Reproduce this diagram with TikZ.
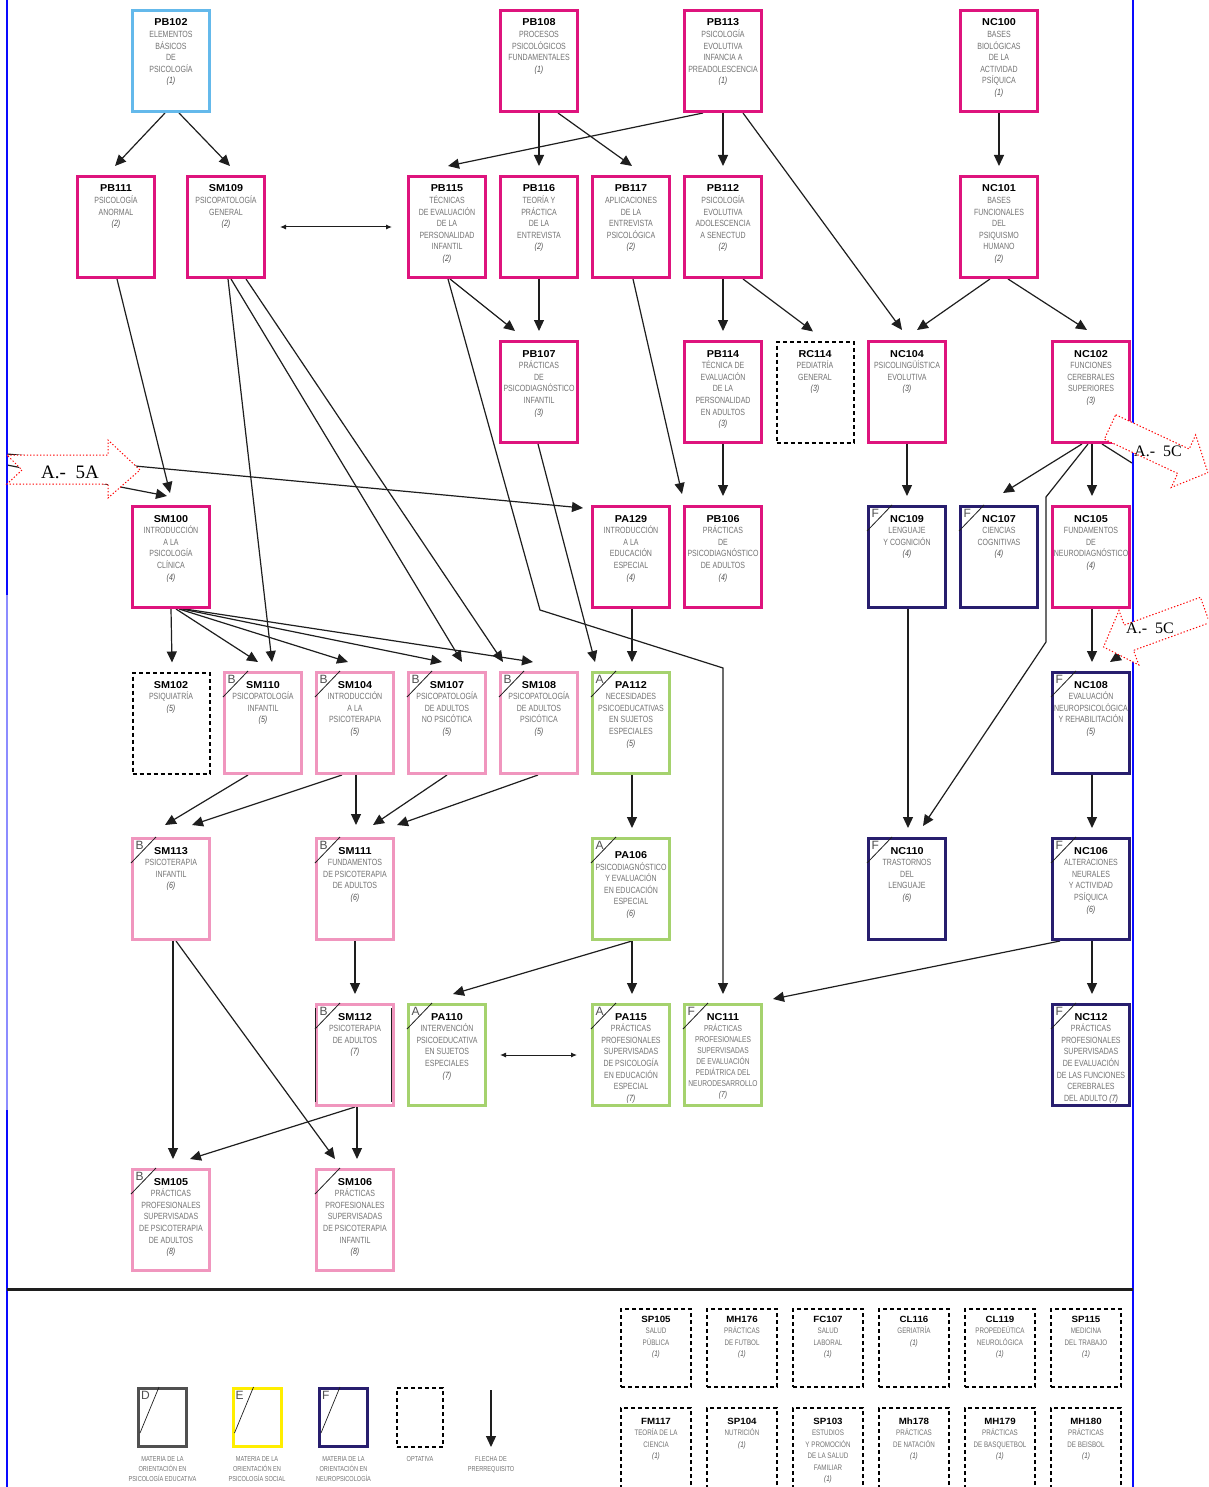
\documentclass[tikz,border=0pt]{standalone}
\usepackage{fontspec}
\setmainfont{Liberation Sans}
\newfontfamily\descfamily[FakeStretch=0.78]{Liberation Sans}
\newfontfamily\codfamily[FakeStretch=1.08]{Liberation Sans}
\newfontfamily\seriffamily{Liberation Serif}
\usetikzlibrary{arrows.meta, backgrounds}

\definecolor{fucsia}{RGB}{222,20,125}
\definecolor{rosa}{RGB}{240,150,190}
\definecolor{verde}{RGB}{165,210,110}
\definecolor{marino}{RGB}{40,30,110}
\definecolor{celeste}{RGB}{100,185,235}
\definecolor{gristxt}{RGB}{115,115,115}
\definecolor{grisleg}{RGB}{80,80,80}
\definecolor{amarillo}{RGB}{255,238,0}
\definecolor{azulmarco}{RGB}{10,10,255}
\definecolor{lavanda}{RGB}{140,140,255}
\definecolor{tinta}{RGB}{30,30,30}

% Textos de las cajas
\newcommand{\desc}{\descfamily\fontsize{9}{11.6}\selectfont}
\newcommand{\cod}[1]{{\color{black}\codfamily\bfseries\fontsize{10}{11}\selectfont #1}}
\newcommand{\sem}[1]{{\itshape\color{gristxt!70!black}(#1)}}
\newcommand{\materia}[2]{\begin{minipage}[c][95pt][t]{77pt}\centering\desc\color{gristxt}\rule{0pt}{12.5pt}\cod{#1}\\ #2\end{minipage}}
\newcommand{\optativa}[2]{\begin{minipage}[c][72pt][t]{68pt}\centering\descfamily\fontsize{8}{11.5}\selectfont\color{gristxt}\rule{0pt}{10pt}{\color{black}\codfamily\bfseries\fontsize{9}{10}\selectfont #1}\\ #2\end{minipage}}
% esquina con letra y diagonal
\newcommand{\marca}[2]{%
  \draw[line width=0.8pt, tinta] ([yshift=-26pt]#1.north west) -- ([xshift=25pt]#1.north west);
  \node[letra] (#1-l) at ([xshift=4.5pt,yshift=-4pt]#1.north west) {#2};}

\begin{document}
\begin{tikzpicture}[x=1pt, y=-1pt,
    >={Triangle[length=11pt,width=10pt]},
    caja/.style={draw=#1, line width=3pt, fill=white, minimum width=77pt, minimum height=101pt, inner sep=0pt},
    opt/.style={draw=black, line width=2pt, dash pattern=on 4pt off 3pt, fill=white, minimum width=77pt, minimum height=101pt, inner sep=0pt},
    optchica/.style={draw=black, line width=2pt, dash pattern=on 4pt off 3pt, minimum width=70pt, minimum height=#1, inner sep=0pt},
    flecha/.style={->, line width=1.2pt, tinta},
    linea/.style={line width=1.2pt, tinta},
    doble/.style={{Latex[length=6pt,width=5pt]}-{Latex[length=6pt,width=5pt]}, line width=1pt, tinta},
    letra/.style={anchor=north west, inner sep=0pt, font=\fontsize{12}{12}\selectfont, text=grisleg},
    bloque/.style={draw=red, fill=white, line width=1pt, dash pattern=on 1.3pt off 2pt},
    leyenda/.style={anchor=north, align=center, inner sep=0pt, text=gristxt, font=\descfamily\fontsize{7.2}{10}\selectfont}]
\clip (0,0) rectangle (1208,1487);

% ---------- semestre 1 ----------
\node[caja=celeste] (PB102) at (171,61) {\materia{PB102}{ELEMENTOS\\BÁSICOS\\DE\\PSICOLOGÍA\\\sem{1}}};
\node[caja=fucsia] (PB108) at (539,61) {\materia{PB108}{PROCESOS\\PSICOLÓGICOS\\FUNDAMENTALES\\\sem{1}}};
\node[caja=fucsia] (PB113) at (723,61) {\materia{PB113}{PSICOLOGÍA\\EVOLUTIVA\\INFANCIA A\\PREADOLESCENCIA\\\sem{1}}};
\node[caja=fucsia] (NC100) at (999,61) {\materia{NC100}{BASES\\BIOLÓGICAS\\DE LA\\ACTIVIDAD\\PSÍQUICA\\\sem{1}}};
% ---------- semestre 2 ----------
\node[caja=fucsia] (PB111) at (116,227) {\materia{PB111}{PSICOLOGÍA\\ANORMAL\\\sem{2}}};
\node[caja=fucsia] (SM109) at (226,227) {\materia{SM109}{PSICOPATOLOGÍA\\GENERAL\\\sem{2}}};
\node[caja=fucsia] (PB115) at (447,227) {\materia{PB115}{TÉCNICAS\\DE EVALUACIÓN\\DE LA\\PERSONALIDAD\\INFANTIL\\\sem{2}}};
\node[caja=fucsia] (PB116) at (539,227) {\materia{PB116}{TEORÍA Y\\PRÁCTICA\\DE LA\\ENTREVISTA\\\sem{2}}};
\node[caja=fucsia] (PB117) at (631,227) {\materia{PB117}{APLICACIONES\\DE LA\\ENTREVISTA\\PSICOLÓGICA\\\sem{2}}};
\node[caja=fucsia] (PB112) at (723,227) {\materia{PB112}{PSICOLOGÍA\\EVOLUTIVA\\ADOLESCENCIA\\A SENECTUD\\\sem{2}}};
\node[caja=fucsia] (NC101) at (999,227) {\materia{NC101}{BASES\\FUNCIONALES\\DEL\\PSIQUISMO\\HUMANO\\\sem{2}}};
% ---------- semestre 3 ----------
\node[caja=fucsia] (PB107) at (539,392) {\materia{PB107}{PRÁCTICAS\\DE\\PSICODIAGNÓSTICO\\INFANTIL\\\sem{3}}};
\node[caja=fucsia] (PB114) at (723,392) {\materia{PB114}{TÉCNICA DE\\EVALUACIÓN\\DE LA\\PERSONALIDAD\\EN ADULTOS\\\sem{3}}};
\node[opt] (RC114) at (815,392) {\materia{RC114}{PEDIATRÍA\\GENERAL\\\sem{3}}};
\node[caja=fucsia] (NC104) at (907,392) {\materia{NC104}{PSICOLINGÜÍSTICA\\EVOLUTIVA\\\sem{3}}};
\node[caja=fucsia] (NC102) at (1091,392) {\materia{NC102}{FUNCIONES\\CEREBRALES\\SUPERIORES\\\sem{3}}};
% ---------- semestre 4 ----------
\node[caja=fucsia] (SM100) at (171,557) {\materia{SM100}{INTRODUCCIÓN\\A LA\\PSICOLOGÍA\\CLÍNICA\\\sem{4}}};
\node[caja=fucsia] (PA129) at (631,557) {\materia{PA129}{INTRODUCCIÓN\\A LA\\EDUCACIÓN\\ESPECIAL\\\sem{4}}};
\node[caja=fucsia] (PB106) at (723,557) {\materia{PB106}{PRÁCTICAS\\DE\\PSICODIAGNÓSTICO\\DE ADULTOS\\\sem{4}}};
\node[caja=marino] (NC109) at (907,557) {\materia{NC109}{LENGUAJE\\Y COGNICIÓN\\\sem{4}}};
\node[caja=marino] (NC107) at (999,557) {\materia{NC107}{CIENCIAS\\COGNITIVAS\\\sem{4}}};
\node[caja=fucsia] (NC105) at (1091,557) {\materia{NC105}{FUNDAMENTOS\\DE\\NEURODIAGNÓSTICO\\\sem{4}}};
% ---------- semestre 5 ----------
\node[opt] (SM102) at (171,723) {\materia{SM102}{PSIQUIATRÍA\\\sem{5}}};
\node[caja=rosa] (SM110) at (263,723) {\materia{SM110}{PSICOPATOLOGÍA\\INFANTIL\\\sem{5}}};
\node[caja=rosa] (SM104) at (355,723) {\materia{SM104}{INTRODUCCIÓN\\A LA\\PSICOTERAPIA\\\sem{5}}};
\node[caja=rosa] (SM107) at (447,723) {\materia{SM107}{PSICOPATOLOGÍA\\DE ADULTOS\\NO PSICÓTICA\\\sem{5}}};
\node[caja=rosa] (SM108) at (539,723) {\materia{SM108}{PSICOPATOLOGÍA\\DE ADULTOS\\PSICÓTICA\\\sem{5}}};
\node[caja=verde] (PA112) at (631,723) {\materia{PA112}{NECESIDADES\\PSICOEDUCATIVAS\\EN SUJETOS\\ESPECIALES\\\sem{5}}};
\node[caja=marino] (NC108) at (1091,723) {\materia{NC108}{EVALUACIÓN\\NEUROPSICOLÓGICA\\Y REHABILITACIÓN\\\sem{5}}};
% ---------- semestre 6 ----------
\node[caja=rosa] (SM113) at (171,889) {\materia{SM113}{PSICOTERAPIA\\INFANTIL\\\sem{6}}};
\node[caja=rosa] (SM111) at (355,889) {\materia{SM111}{FUNDAMENTOS\\DE PSICOTERAPIA\\DE ADULTOS\\\sem{6}}};
\node[caja=verde] (PA106) at (631,889) {\materia{\rule{0pt}{17pt}PA106}{PSICODIAGNÓSTICO\\Y EVALUACIÓN\\EN EDUCACIÓN\\ESPECIAL\\\sem{6}}};
\node[caja=marino] (NC110) at (907,889) {\materia{NC110}{TRASTORNOS\\DEL\\LENGUAJE\\\sem{6}}};
\node[caja=marino] (NC106) at (1091,889) {\materia{NC106}{ALTERACIONES\\NEURALES\\Y ACTIVIDAD\\PSÍQUICA\\\sem{6}}};
% ---------- semestre 7 ----------
\node[caja=rosa] (SM112) at (355,1055) {\materia{SM112}{PSICOTERAPIA\\DE ADULTOS\\\sem{7}}};
\node[caja=verde] (PA110) at (447,1055) {\materia{PA110}{INTERVENCIÓN\\PSICOEDUCATIVA\\EN SUJETOS\\ESPECIALES\\\sem{7}}};
\node[caja=verde] (PA115) at (631,1055) {\materia{PA115}{PRÁCTICAS\\PROFESIONALES\\SUPERVISADAS\\DE PSICOLOGÍA\\EN EDUCACIÓN\\ESPECIAL\\\sem{7}}};
\node[caja=verde] (NC111) at (723,1055) {\materia{NC111}{\fontsize{8.5}{11}\selectfont PRÁCTICAS\\PROFESIONALES\\SUPERVISADAS\\DE EVALUACIÓN\\PEDIÁTRICA DEL\\NEURODESARROLLO\\\sem{7}}};
\node[caja=marino] (NC112) at (1091,1055) {\materia{NC112}{PRÁCTICAS\\PROFESIONALES\\SUPERVISADAS\\DE EVALUACIÓN\\DE LAS FUNCIONES\\CEREBRALES\\DEL ADULTO \sem{7}}};
% ---------- semestre 8 ----------
\node[caja=rosa] (SM105) at (171,1220) {\materia{SM105}{PRÁCTICAS\\PROFESIONALES\\SUPERVISADAS\\DE PSICOTERAPIA\\DE ADULTOS\\\sem{8}}};
\node[caja=rosa] (SM106) at (355,1220) {\materia{SM106}{PRÁCTICAS\\PROFESIONALES\\SUPERVISADAS\\DE PSICOTERAPIA\\INFANTIL\\\sem{8}}};

% lineas negras interiores de SM112
\draw[line width=1pt, tinta] ([xshift=0.5pt,yshift=-5pt]SM112.north west) -- ([xshift=0.5pt,yshift=5pt]SM112.south west);
\draw[line width=1pt, tinta] ([xshift=-3.5pt,yshift=-5pt]SM112.north east) -- ([xshift=-3.5pt,yshift=5pt]SM112.south east);

% esquinas de orientacion
\foreach \m/\l in {SM110/B, SM104/B, SM107/B, SM108/B, SM113/B, SM111/B, SM112/B, SM105/B, SM106/{},
                   PA112/A, PA106/A, PA110/A, PA115/A,
                   NC109/F, NC107/F, NC108/F, NC110/F, NC106/F, NC111/F, NC112/F}
  {\marca{\m}{\l}}

% ---------- conectores ----------
\begin{pgfonlayer}{background}
\fill[white] (0,0) rectangle (1208,1487);
\draw[flecha] ([xshift=-6pt]PB102.south) -- ([xshift=-1pt,yshift=9pt]PB111.north);
\draw[flecha] ([xshift=8pt]PB102.south) -- ([xshift=4pt,yshift=9pt]SM109.north);
\draw[doble] ([xshift=14pt]SM109.east) -- ([xshift=-15pt]PB115.west);
\draw[flecha] (PB108.south) -- ([yshift=9pt]PB116.north);
\draw[flecha] ([xshift=19pt]PB108.south) -- ([xshift=1pt,yshift=9pt]PB117.north);
\draw[flecha] ([xshift=-20pt]PB113.south) -- ([xshift=1pt,yshift=9pt]PB115.north);
\draw[flecha] (PB113.south) -- ([yshift=9pt]PB112.north);
\draw[flecha] ([xshift=20pt]PB113.south) -- ([xshift=-5pt,yshift=10pt]NC104.north);
\draw[flecha] (NC100.south) -- ([yshift=9pt]NC101.north);
\draw[flecha] ([xshift=3pt]PB115.south) -- ([xshift=-24pt,yshift=9pt]PB107.north);
\draw[flecha] (PB116.south) -- ([yshift=9pt]PB107.north);
\draw[flecha] ([xshift=2pt]PB117.south) -- ([xshift=-41pt,yshift=11pt]PB106.north);
\draw[flecha] (PB112.south) -- ([yshift=9pt]PB114.north);
\draw[flecha] ([xshift=20pt]PB112.south) -- ([xshift=-2pt,yshift=9pt]RC114.north);
\draw[flecha] ([xshift=-9pt]NC101.south) -- ([xshift=10pt,yshift=10pt]NC104.north);
\draw[flecha] ([xshift=9pt]NC101.south) -- ([xshift=-4pt,yshift=10pt]NC102.north);
\draw[flecha] ([xshift=1pt]PB111.south) -- ([xshift=-1pt,yshift=12pt]SM100.north);
% entradas desde la izquierda
\coordinate (izqA) at (7,465);
\coordinate (izqB) at (7,454);
\draw[flecha] (izqA) -- ([xshift=-4pt,yshift=9pt]SM100.north);
\draw[flecha] (izqB) -- ([xshift=-8pt,yshift=-3pt]PA129.north west);
% desde SM109
\draw[flecha] ([xshift=2pt]SM109.south) -- ([xshift=9pt,yshift=9pt]SM110.north);
\draw[flecha] ([xshift=5pt]SM109.south) -- ([xshift=15pt,yshift=9pt]SM107.north);
\draw[flecha] ([xshift=20pt]SM109.south) -- ([xshift=-36pt,yshift=9pt]SM108.north);
\draw[flecha] ([xshift=1pt]PB115.south) -- (540,610) -- (723,668) -- ([yshift=9pt]NC111.north);
\draw[flecha] ([xshift=-1pt]PB107.south) -- ([xshift=-36pt,yshift=9pt]PA112.north);
\draw[flecha] ([xshift=1pt]PA129.south) -- ([xshift=1pt,yshift=9pt]PA112.north);
\draw[flecha] (PB114.south) -- ([yshift=9pt]PB106.north);
\draw[flecha] (NC104.south) -- ([yshift=9pt]NC109.north);
% desde NC102
\draw[flecha] ([xshift=-9pt]NC102.south) -- ([xshift=4pt,yshift=12pt]NC107.north);
\draw[flecha] ([xshift=-3pt]NC102.south) -- (1046,497) -- (1046,642) -- ([xshift=16pt,yshift=11pt]NC110.north);
\draw[flecha] ([xshift=1pt]NC102.south) -- ([xshift=1pt,yshift=9pt]NC105.north);
\coordinate (derA) at (1132,463);
\draw[linea] ([xshift=11pt]NC102.south) -- (derA);
\draw[flecha] ([xshift=1pt]NC105.south) -- ([xshift=1pt,yshift=9pt]NC108.north);
\coordinate (derB) at (1134,646);
\draw[flecha] (derB) -- ([xshift=19pt,yshift=9pt]NC108.north);
% desde SM100
\foreach \sx/\dest/\dx in {0/SM102/1, 5/SM110/-5, 8/SM104/-7, 11/SM107/-5, 14/SM108/-6}
  \draw[flecha] ([xshift=\sx pt]SM100.south) -- ([xshift=\dx pt,yshift=9pt]\dest.north);
% semestre 5 a 6
\draw[flecha] ([xshift=-15pt]SM110.south) -- ([xshift=-6pt,yshift=12pt]SM113.north);
\draw[flecha] ([xshift=-13pt]SM104.south) -- ([xshift=21pt,yshift=12pt]SM113.north);
\draw[flecha] ([xshift=1pt]SM104.south) -- ([xshift=1pt,yshift=12pt]SM111.north);
\draw[flecha] (SM107.south) -- ([xshift=18pt,yshift=12pt]SM111.north);
\draw[flecha] ([xshift=-1pt]SM108.south) -- ([xshift=42pt,yshift=12pt]SM111.north);
\draw[flecha] ([xshift=1pt]PA112.south) -- ([xshift=1pt,yshift=9pt]PA106.north);
\draw[flecha] ([xshift=1pt]NC109.south) -- ([xshift=1pt,yshift=9pt]NC110.north);
\draw[flecha] ([xshift=1pt]NC108.south) -- ([xshift=1pt,yshift=9pt]NC106.north);
% semestre 6 a 8
\draw[flecha] ([xshift=2pt]SM113.south) -- ([xshift=2pt,yshift=9pt]SM105.north);
\draw[flecha] ([xshift=5pt]SM113.south) -- ([xshift=-20pt,yshift=9pt]SM106.north);
\draw[flecha] (SM111.south) -- ([yshift=9pt]SM112.north);
\draw[flecha] ([xshift=1pt]PA106.south) -- ([xshift=6pt,yshift=9pt]PA110.north);
\draw[flecha] ([xshift=1pt]PA106.south) -- ([xshift=1pt,yshift=9pt]PA115.north);
\draw[flecha] ([xshift=-31pt]NC106.south) -- ([xshift=10pt,yshift=4pt]NC111.north east);
\draw[flecha] ([xshift=1pt]NC106.south) -- ([xshift=1pt,yshift=9pt]NC112.north);
\draw[doble] ([xshift=13pt]PA110.east) -- ([xshift=-14pt]PA115.west);
\draw[flecha] (SM112.south) -- ([xshift=19pt,yshift=9pt]SM105.north);
\draw[flecha] ([xshift=2pt]SM112.south) -- ([xshift=2pt,yshift=9pt]SM106.north);
\end{pgfonlayer}

% ---------- marco ----------
\draw[azulmarco, line width=2pt] (7,0) -- (7,595);
\draw[lavanda, line width=2pt] (7,595) -- (7,1110);
\draw[azulmarco, line width=2pt] (7,1110) -- (7,1487);
\draw[azulmarco, line width=2pt] (1133,0) -- (1133,1487);
\draw[tinta, line width=3pt] (7,1289) -- (1133,1289);

% ---------- flechas de bloque ----------
\filldraw[bloque] (7,455) -- (108,455) -- (108,440) -- (140,470) -- (108,498) -- (108,484) -- (7,484) -- (22,470) -- cycle;
\node[font=\seriffamily\fontsize{19}{19}\selectfont] (t5A) at (70,472) {A.-\ \ 5A};
\begin{scope}[shift={(1110,427)}, rotate=-25]
  \filldraw[bloque] (0,-13.5) -- (81,-13.5) -- (81,-29) -- (108,0) -- (81,29) -- (81,13.5) -- (0,13.5) -- cycle;
\end{scope}
\node[font=\seriffamily\fontsize{16}{16}\selectfont] (t5C) at (1158,451) {A.-\ \ 5C};
\begin{scope}[shift={(1205,610)}, rotate=200]
  \filldraw[bloque] (0,-13.5) -- (81,-13.5) -- (81,-29) -- (108,0) -- (81,29) -- (81,13.5) -- (0,13.5) -- cycle;
\end{scope}
\node[font=\seriffamily\fontsize{16}{16}\selectfont] (t5Cb) at (1150,628) {A.-\ \ 5C};

% ---------- leyenda ----------
\node[draw=grisleg, line width=3pt, minimum width=48pt, minimum height=58pt] (legD) at (162.5,1417.5) {};
\node[draw=amarillo, line width=3pt, minimum width=48pt, minimum height=58pt] (legE) at (257,1417.5) {};
\node[draw=marino, line width=3pt, minimum width=48pt, minimum height=58pt] (legF) at (343.5,1417.5) {};
\node[draw=black, line width=2pt, dash pattern=on 4pt off 3pt, minimum width=46pt, minimum height=59pt] (legO) at (420,1417.5) {};
\foreach \m/\l in {legD/D, legE/E, legF/F}
  {\draw[line width=0.7pt, tinta] ([xshift=22pt]\m.north west) -- ([xshift=3pt,yshift=-46pt]\m.north west);
   \node[letra] (\m-l) at ([xshift=4pt,yshift=-4pt]\m.north west) {\l};}
\coordinate (legA1) at (491,1390);
\coordinate (legA2) at (491,1447);
\draw[flecha] (legA1) -- (legA2);
\node[leyenda] (capD) at (legD.south |- 0,1456) {MATERIA DE LA\\ORIENTACIÓN EN\\PSICOLOGÍA EDUCATIVA};
\node[leyenda] (capE) at (legE.south |- 0,1456) {MATERIA DE LA\\ORIENTACIÓN EN\\PSICOLOGÍA SOCIAL};
\node[leyenda] (capF) at (legF.south |- 0,1456) {MATERIA DE LA\\ORIENTACIÓN EN\\NEUROPSICOLOGÍA};
\node[leyenda] (capO) at (legO.south |- 0,1456) {OPTATIVA};
\node[leyenda] (capA) at (491,1456) {FLECHA DE\\PRERREQUISITO};

% ---------- optativas ----------
\foreach \i/\cd/\txt in {0/SP105/{SALUD\\PÚBLICA}, 1/MH176/{PRÁCTICAS\\DE FUTBOL}, 2/FC107/{SALUD\\LABORAL},
                        3/CL116/{GERIATRÍA}, 4/CL119/{PROPEDEÚTICA\\NEUROLÓGICA}, 5/SP115/{MEDICINA\\DEL TRABAJO}}
  \node[optchica=78pt] (op-\cd) at (656+86*\i,1348) {\optativa{\cd}{\txt\\\sem{1}}};
\foreach \i/\cd/\txt in {0/FM117/{TEORÍA DE LA\\CIENCIA}, 1/SP104/{NUTRICIÓN}, 2/SP103/{ESTUDIOS\\Y PROMOCIÓN\\DE LA SALUD\\FAMILIAR},
                        3/Mh178/{PRÁCTICAS\\DE NATACIÓN}, 4/MH179/{PRÁCTICAS\\DE BASQUETBOL}, 5/MH180/{PRÁCTICAS\\DE BEISBOL}}
  \node[optchica=84pt] (op-\cd) at (656+86*\i,1450) {\optativa{\cd}{\txt\\\sem{1}}};
\end{tikzpicture}
\end{document}
